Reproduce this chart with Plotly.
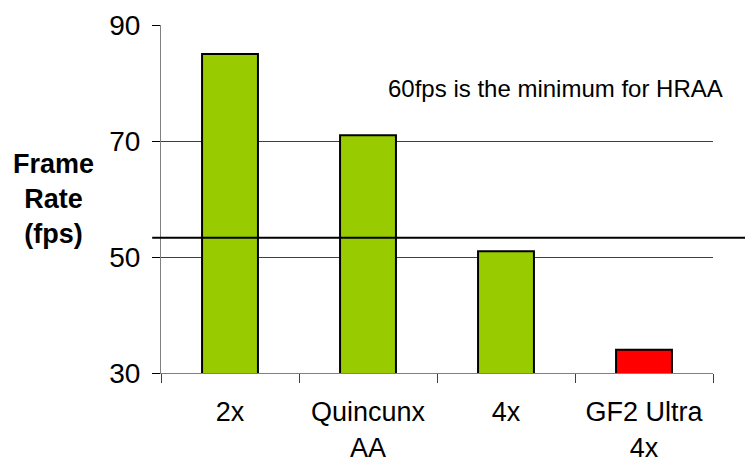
import plotly.graph_objects as go

# Frame rate by antialiasing mode
modes = ["2x", "Quincunx<br>AA", "4x", "GF2 Ultra<br>4x"]
fps = [85, 71, 51, 34]
bar_colors = ["#99CC00", "#99CC00", "#99CC00", "#FF0000"]
threshold = 53.3
y_ticks = [30, 50, 70, 90]

fig = go.Figure(
    go.Bar(
        x=modes,
        y=fps,
        width=0.405,
        marker=dict(color=bar_colors, line=dict(color="black", width=2)),
    )
)

fig.add_shape(
    type="line", xref="paper", yref="y",
    x0=-0.016, x1=1.1, y0=threshold, y1=threshold,
    line=dict(color="black", width=2),
)

fig.add_annotation(
    text="60fps is the minimum for HRAA",
    xref="paper", yref="y", x=0.714, y=79.1,
    xanchor="center", yanchor="middle",
    showarrow=False, font=dict(size=24, color="black"),
)
fig.add_annotation(
    text="<b>Frame<br>Rate<br>(fps)</b>",
    xref="paper", yref="paper", x=-0.194, y=0.5,
    xanchor="center", yanchor="middle",
    showarrow=False, align="center",
    font=dict(size=27, color="black"),
)

fig.update_layout(
    width=745, height=463,
    margin=dict(l=161, r=32, t=25, b=90),
    plot_bgcolor="white", paper_bgcolor="white",
    font=dict(family="Liberation Sans, Arial, sans-serif", color="black"),
    showlegend=False,
    xaxis=dict(
        type="category", tickson="boundaries", automargin=False,
        showline=True, linecolor="#808080", linewidth=1,
        ticks="outside", ticklen=9, tickcolor="#404040",
        tickfont=dict(size=27), ticklabelstandoff=15, showgrid=False,
    ),
    yaxis=dict(
        range=[30, 90], tickvals=y_ticks, automargin=False,
        showline=True, linecolor="#808080", linewidth=1,
        ticks="outside", ticklen=8, tickcolor="black",
        tickfont=dict(size=28), ticklabelstandoff=6,
        showgrid=True, gridcolor="#404040", gridwidth=1,
        zeroline=False,
    ),
)

fig.write_html("out.html")
